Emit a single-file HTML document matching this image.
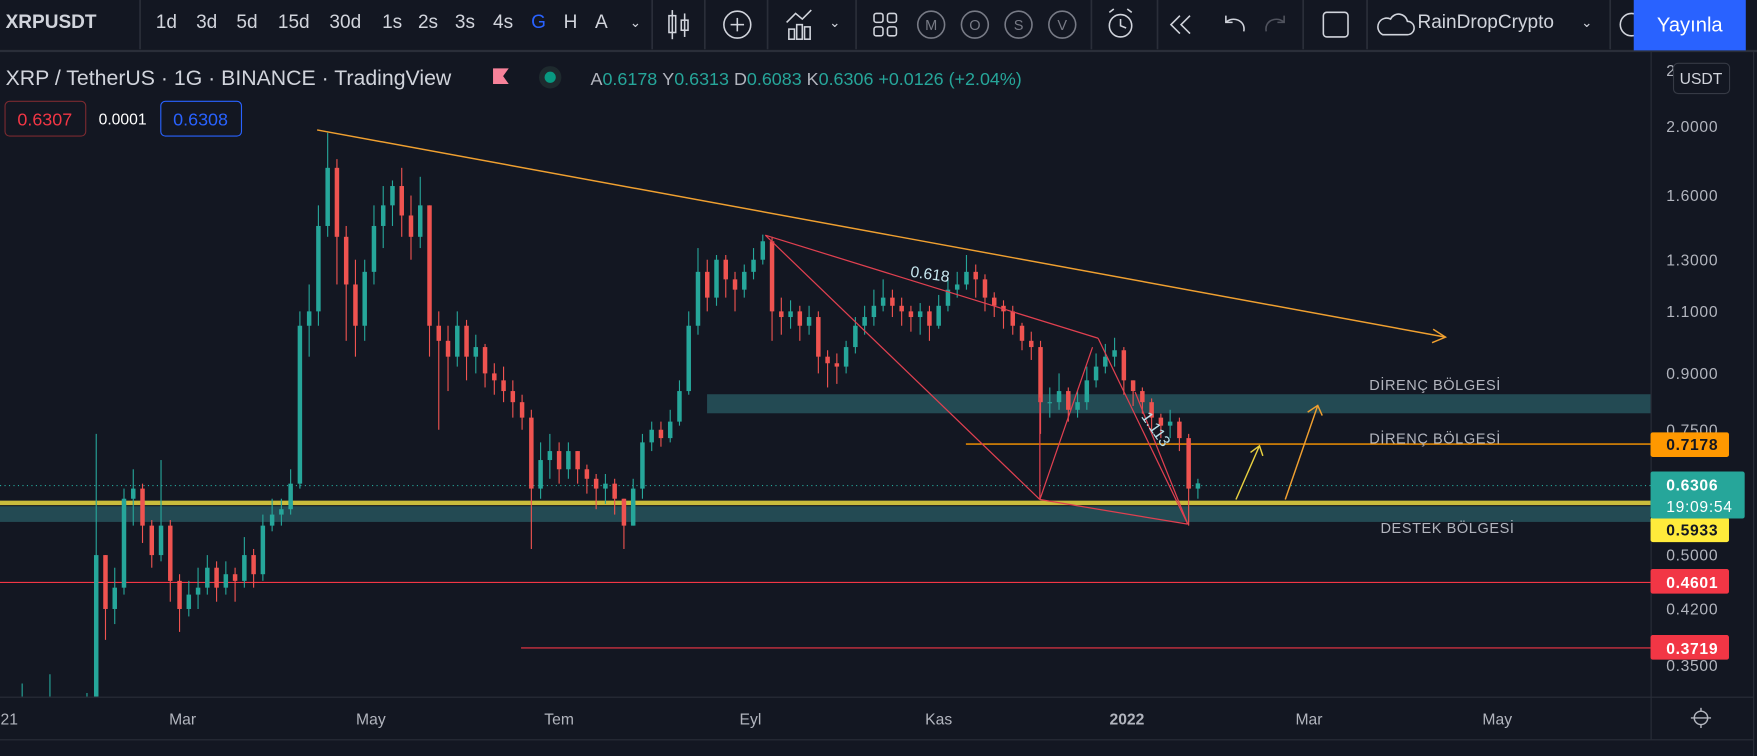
<!DOCTYPE html>
<html><head><meta charset="utf-8">
<style>
html,body{margin:0;padding:0;background:#131722;overflow:hidden;width:1757px;height:756px}
#wrap{position:absolute;left:0;top:0;width:1757px;height:756px;overflow:hidden;background:#131722;font-family:"Liberation Sans",sans-serif;color:#d1d4dc}
#svg{display:block}
svg text{font-family:"Liberation Sans",sans-serif}
</style></head><body>
<div id="wrap">
<svg id="svg" width="1757" height="756" viewBox="0 0 1568 675" preserveAspectRatio="none" xmlns="http://www.w3.org/2000/svg">
<defs>
<clipPath id="plotclip"><rect x="0" y="46" width="1473" height="576"/></clipPath>
</defs>
<g>
<rect x="0" y="0" width="1568" height="45" fill="#131722"/>
<line x1="0" y1="45.5" x2="1568" y2="45.5" stroke="#2a2e39" stroke-width="2"/>
<text x="5" y="25" font-size="17" font-weight="bold" fill="#d1d4dc">XRPUSDT</text>
<g stroke="#2a2e39" stroke-width="1.5">
<line x1="125" y1="0" x2="125" y2="44"/><line x1="582" y1="0" x2="582" y2="44"/><line x1="629" y1="0" x2="629" y2="44"/><line x1="685" y1="0" x2="685" y2="44"/><line x1="764" y1="0" x2="764" y2="44"/><line x1="974" y1="0" x2="974" y2="44"/><line x1="1033" y1="0" x2="1033" y2="44"/><line x1="1163" y1="0" x2="1163" y2="44"/><line x1="1220" y1="0" x2="1220" y2="44"/><line x1="1437" y1="0" x2="1437" y2="44"/>
</g>
<g font-size="17" fill="#d1d4dc">
<text x="139" y="25">1d</text>
<text x="175" y="25">3d</text>
<text x="211" y="25">5d</text>
<text x="248" y="25">15d</text>
<text x="294" y="25">30d</text>
<text x="341" y="25">1s</text>
<text x="373" y="25">2s</text>
<text x="406" y="25">3s</text>
<text x="440" y="25">4s</text>
<text x="474" y="25" fill="#2962ff">G</text>
<text x="503" y="25">H</text>
<text x="531" y="25">A</text>
<text x="562" y="24" font-size="12">⌄</text>
</g>
<g stroke="#d1d4dc" fill="none" stroke-width="1.4">
<g><line x1="600" y1="9" x2="600" y2="35"/><rect x="597" y="14" width="6" height="15"/><line x1="611" y1="12" x2="611" y2="33"/><rect x="608" y="18" width="6" height="9"/></g>
<g><circle cx="658" cy="22" r="12"/><line x1="652" y1="22" x2="664" y2="22"/><line x1="658" y1="16" x2="658" y2="28"/></g>
<g><polyline points="702,20 710,12 716,17 724,9"/><rect x="704" y="26" width="5" height="9"/><rect x="711" y="22" width="5" height="13"/><rect x="718" y="24" width="5" height="11"/></g>
<text x="740" y="24" font-size="12" fill="#d1d4dc" stroke="none">⌄</text>
<g><rect x="780" y="12" width="8" height="8" rx="2"/><rect x="792" y="12" width="8" height="8" rx="2"/><rect x="780" y="24" width="8" height="8" rx="2"/><rect x="792" y="24" width="8" height="8" rx="2"/></g>
<g stroke="#787b86"><circle cx="831" cy="22" r="12"/><circle cx="870" cy="22" r="12"/><circle cx="909" cy="22" r="12"/><circle cx="948" cy="22" r="12"/></g>
<g><circle cx="1000" cy="23" r="10"/><polyline points="1000,17 1000,23 1005,25"/><line x1="990" y1="11" x2="994" y2="8"/><line x1="1010" y1="11" x2="1006" y2="8"/></g>
<g><polyline points="1053,14 1045,22 1053,30"/><polyline points="1062,14 1054,22 1062,30"/></g>
<g><path d="M1110,28 C1112,18 1100,14 1094,20"/><polyline points="1094,14 1094,20 1100,20"/></g>
<g stroke="#50535e"><path d="M1130,28 C1128,18 1140,14 1146,20"/><polyline points="1146,14 1146,20 1140,20"/></g>
<rect x="1181" y="11" width="22" height="22" rx="3"/>
<path d="M1234,31 h22 a6,6 0 0 0 0,-12 a8,8 0 0 0 -15,-2 a7,7 0 0 0 -7,14 z"/>
</g>
<g font-size="13" fill="#787b86" text-anchor="middle"><text x="831" y="27">M</text><text x="870" y="27">O</text><text x="909" y="27">S</text><text x="948" y="27">V</text></g>
<text x="1265" y="25" font-size="17" fill="#d1d4dc">RainDropCrypto</text>
<text x="1411" y="24" font-size="12" fill="#d1d4dc">⌄</text>
<circle cx="1456" cy="22" r="10" fill="none" stroke="#d1d4dc" stroke-width="1.4"/>
<g><rect x="1458" y="0" width="100" height="45" fill="#2962ff"/><text x="1508" y="28" font-size="18" fill="#fff" text-anchor="middle">Yayınla</text></g>
</g>

<rect x="0" y="47" width="1473" height="575" fill="#131722"/>
<g id="plot" clip-path="url(#plotclip)">
<rect x="631" y="352" width="842" height="17" fill="#234a53"/>
<rect x="0" y="452" width="1473" height="14" fill="#234a53"/>
<rect x="0" y="447" width="1473" height="4" fill="#c9bc3c"/>
<line x1="0" y1="433.5" x2="1473" y2="433.5" stroke="#26a69a" stroke-dasharray="1 3"/>
<line x1="862" y1="396.5" x2="1473" y2="396.5" stroke="#ff9800" stroke-width="1.2"/>
<line x1="0" y1="520" x2="1473" y2="520" stroke="#f23645"/>
<line x1="465" y1="578.5" x2="1473" y2="578.5" stroke="#f23645"/>
<g id="candles"></g>
<g fill="none">
<line x1="283" y1="116" x2="1290" y2="301" stroke="#f0a030" stroke-width="1.3"/>
<polyline points="1279,294 1290,301 1278,306" stroke="#f0a030" stroke-width="1.3"/>
<g stroke="#e04050" stroke-width="1.1">
<line x1="683" y1="210" x2="928" y2="446"/>
<line x1="683" y1="210" x2="980" y2="302"/>
<line x1="980" y1="302" x2="1060" y2="468"/>
<line x1="928" y1="446" x2="1060" y2="468"/>
<line x1="928" y1="355" x2="928" y2="446"/>
<line x1="928" y1="446" x2="975" y2="310"/>
<line x1="1013" y1="350" x2="1060" y2="468"/>
</g>
<g stroke="#e8d040" stroke-width="1.3"><line x1="1103" y1="446" x2="1124" y2="398"/><polyline points="1116,404 1124,398 1127,407"/></g>
<g stroke="#f0a030" stroke-width="1.3"><line x1="1147" y1="446" x2="1176" y2="362"/><polyline points="1167,368 1176,362 1180,371"/></g>
</g>
<text x="812" y="247" font-size="14" fill="#c8e8f0" transform="rotate(8 812 247)">0.618</text>
<text x="1018" y="372" font-size="14" fill="#b8e0ea" transform="rotate(55 1018 372)">1.113</text>
<g font-size="13" fill="#b2b5be" letter-spacing="0.5">
<text x="1222" y="348">DİRENÇ BÖLGESİ</text>
<text x="1222" y="396">DİRENÇ BÖLGESİ</text>
<text x="1232" y="476">DESTEK BÖLGESİ</text>
</g>
</g>

<text x="5" y="76" font-size="19" fill="#d1d4dc">XRP / TetherUS · 1G · BINANCE · TradingView</text>
<path d="M440,61 h14 l-5,7 l5,7 h-14 z" fill="#f7829a"/>
<circle cx="491" cy="69" r="10" fill="#1e2a2e"/><circle cx="491" cy="69" r="5" fill="#089981"/>
<text x="527" y="76" font-size="16" fill="#26a69a"><tspan fill="#b2b5be">A</tspan>0.6178 <tspan fill="#b2b5be">Y</tspan>0.6313 <tspan fill="#b2b5be">D</tspan>0.6083 <tspan fill="#b2b5be">K</tspan>0.6306 +0.0126 (+2.04%)</text>
<g><rect x="4.5" y="90.5" width="72" height="31" rx="4" fill="none" stroke="#7a2a30"/><text x="40" y="112" font-size="16" fill="#f23645" text-anchor="middle">0.6307</text></g>
<text x="88" y="111" font-size="14" fill="#fff">0.0001</text>
<g><rect x="143.5" y="90.5" width="72" height="31" rx="4" fill="none" stroke="#2962ff"/><text x="179" y="112" font-size="16" fill="#2962ff" text-anchor="middle">0.6308</text></g>

<g>
<line x1="1473.5" y1="46" x2="1473.5" y2="660" stroke="#2a2e39"/>
<line x1="1565" y1="46" x2="1565" y2="675" stroke="#2a2e39"/>
<g id="yticks" font-size="14" fill="#b2b5be" letter-spacing="0.6"></g>
<g><rect x="1493.5" y="56.5" width="50" height="27" rx="4" fill="#131722" stroke="#363a45"/><text x="1518" y="75" font-size="14" fill="#d1d4dc" text-anchor="middle">USDT</text></g>
<g font-size="14" font-weight="bold" letter-spacing="0.6">
<g><rect x="1473" y="386" width="70" height="22" rx="2" fill="#ff9800"/><text x="1487" y="402" fill="#131722">0.7178</text></g>
<g><rect x="1473" y="462" width="70" height="22" rx="2" fill="#ffeb3b"/><text x="1487" y="478" fill="#131722">0.5933</text></g>
<g><rect x="1473" y="421" width="84" height="42" rx="2" fill="#26a69a"/><text x="1487" y="438" fill="#fff">0.6306</text><text x="1487" y="457" fill="#fff" font-weight="normal">19:09:54</text></g>
<g><rect x="1473" y="508" width="70" height="22" rx="2" fill="#f23645"/><text x="1487" y="525" fill="#fff">0.4601</text></g>
<g><rect x="1473" y="567" width="70" height="22" rx="2" fill="#f23645"/><text x="1487" y="584" fill="#fff">0.3719</text></g>
</g>
</g>

<g>
<line x1="0" y1="622.5" x2="1565" y2="622.5" stroke="#2a2e39"/>
<line x1="0" y1="660.5" x2="1565" y2="660.5" stroke="#2a2e39"/>
<g id="xticks" font-size="14" fill="#b2b5be" text-anchor="middle"></g>
<g stroke="#b2b5be" fill="none" stroke-width="1.3"><circle cx="1518" cy="641" r="6"/><line x1="1509" y1="641" x2="1527" y2="641"/><line x1="1518" y1="632" x2="1518" y2="635"/><line x1="1518" y1="647" x2="1518" y2="650"/></g>
</g>
</svg>
</div>
<script>
// 3-day candles from 2021-01-01 (day offset = index*3)
const closes=[0.23,0.27,0.30,0.29,0.28,0.30,0.29,0.28,0.27,0.30,
0.50,0.42,0.45,0.60,0.62,0.55,0.50,0.55,0.46,0.42,0.44,0.45,0.48,0.45,0.47,0.46,0.50,0.47,0.55,0.57,
0.58,0.63,1.05,1.10,1.45,1.75,1.40,1.20,1.05,1.25,1.45,1.55,1.65,1.50,1.40,1.55,1.05,1.00,0.95,1.05,
0.95,0.98,0.90,0.88,0.85,0.82,0.78,0.62,0.68,0.70,0.66,0.70,0.66,0.64,0.62,0.63,0.60,0.55,0.62,0.72,
0.75,0.73,0.77,0.85,1.05,1.25,1.15,1.30,1.22,1.18,1.25,1.30,1.38,1.10,1.08,1.10,1.05,1.08,0.95,0.93,
0.92,0.98,1.05,1.08,1.12,1.15,1.12,1.10,1.08,1.10,1.05,1.12,1.18,1.20,1.25,1.22,1.15,1.12,1.10,1.05,
1.00,0.98,0.82,0.82,0.85,0.80,0.82,0.88,0.92,0.95,0.97,0.88,0.85,0.82,0.78,0.76,0.77,0.73,0.62,0.6306];
const highs=[0.24,0.29,0.33,0.31,0.30,0.34,0.31,0.30,0.29,0.32,
0.74,0.50,0.48,0.62,0.66,0.63,0.56,0.68,0.56,0.47,0.46,0.48,0.50,0.49,0.49,0.48,0.53,0.51,0.57,0.60,
0.60,0.66,1.10,1.20,1.55,1.96,1.80,1.45,1.30,1.30,1.55,1.65,1.68,1.75,1.60,1.70,1.55,1.10,1.05,1.10,
1.07,1.02,0.99,0.93,0.92,0.88,0.84,0.80,0.72,0.74,0.72,0.72,0.70,0.67,0.65,0.65,0.64,0.60,0.64,0.74,
0.77,0.77,0.80,0.88,1.10,1.35,1.30,1.32,1.32,1.25,1.28,1.35,1.41,1.40,1.15,1.14,1.12,1.12,1.10,0.97,
0.96,1.00,1.08,1.12,1.18,1.22,1.18,1.15,1.12,1.13,1.12,1.16,1.22,1.25,1.32,1.28,1.24,1.17,1.14,1.12,
1.06,1.03,1.00,0.86,0.90,0.86,0.85,0.92,0.96,0.99,1.01,0.98,0.88,0.86,0.83,0.79,0.80,0.78,0.74,0.64];
const lows=[0.21,0.23,0.26,0.27,0.27,0.28,0.27,0.27,0.26,0.26,
0.29,0.38,0.40,0.44,0.55,0.52,0.48,0.49,0.43,0.39,0.41,0.42,0.44,0.43,0.44,0.43,0.45,0.45,0.46,0.54,
0.55,0.57,0.62,0.95,1.05,1.40,1.20,1.00,0.95,1.00,1.20,1.35,1.45,1.40,1.30,1.35,0.95,0.75,0.85,0.92,
0.88,0.90,0.86,0.84,0.82,0.78,0.75,0.51,0.60,0.64,0.63,0.64,0.63,0.61,0.58,0.59,0.57,0.51,0.55,0.60,
0.70,0.71,0.72,0.76,0.84,1.02,1.10,1.12,1.15,1.10,1.15,1.22,1.28,1.00,1.02,1.04,1.00,1.02,0.90,0.86,
0.87,0.90,0.96,1.02,1.05,1.10,1.08,1.05,1.03,1.02,1.00,1.04,1.10,1.15,1.18,1.15,1.10,1.08,1.04,1.02,
0.97,0.94,0.74,0.78,0.80,0.77,0.78,0.80,0.86,0.90,0.92,0.84,0.81,0.79,0.75,0.73,0.73,0.70,0.55,0.60];
const firstOpen=0.22;
const yTickValues=[2.4,2.0,1.6,1.3,1.1,0.9,0.75,0.5,0.42,0.35];
const yTickLabels=["2.4000","2.0000","1.6000","1.3000","1.1000","0.9000","0.7500","0.5000","0.4200","0.3500"];
const xTickDays=[0,59,120,181,243,304,365,424,485];
const xTickLabels=["2021","Mar","May","Tem","Eyl","Kas","2022","Mar","May"];

const NS="http://www.w3.org/2000/svg";
function yScale(p){return 113+(Math.log(2)-Math.log(p))*276;}
function xScale(day){return 0.5+day*2.754;}

const cg=document.getElementById('candles');
for(let i=0;i<closes.length;i++){
  const o=i===0?firstOpen:closes[i-1], c=closes[i];
  const up=c>=o, col=up?'#26a69a':'#ef5350';
  const x=xScale(i*3+1);
  const w=document.createElementNS(NS,'line');
  w.setAttribute('x1',x);w.setAttribute('x2',x);
  w.setAttribute('y1',yScale(highs[i]));w.setAttribute('y2',yScale(lows[i]));
  w.setAttribute('stroke',col);w.setAttribute('stroke-width','1');
  
  
  cg.appendChild(w);
  const b=document.createElementNS(NS,'rect');
  const yt=yScale(Math.max(o,c)), yb=yScale(Math.min(o,c));
  b.setAttribute('x',x-2);b.setAttribute('width',4);
  b.setAttribute('y',yt);b.setAttribute('height',Math.max(1,yb-yt));
  b.setAttribute('fill',col);
  
  
  cg.appendChild(b);
}
const yg=document.getElementById('yticks');
yTickValues.forEach((v,i)=>{
  const t=document.createElementNS(NS,'text');
  t.setAttribute('x',1487);t.setAttribute('y',yScale(v)+5);
  t.textContent=yTickLabels[i];
  
  
  yg.appendChild(t);
});
const xg=document.getElementById('xticks');
xTickDays.forEach((d,i)=>{
  const t=document.createElementNS(NS,'text');
  t.setAttribute('x',xScale(d));t.setAttribute('y',647);
  t.textContent=xTickLabels[i];
  if(xTickLabels[i]==='2022'){t.setAttribute('font-weight','bold');}
  
  
  xg.appendChild(t);
});
</script>
</body></html>
